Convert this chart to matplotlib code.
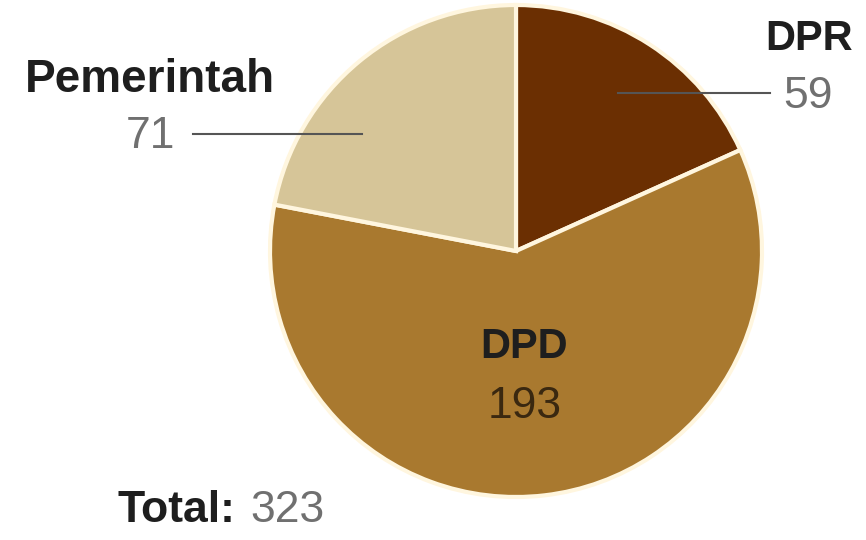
import matplotlib
matplotlib.use("Agg")
import matplotlib.pyplot as plt

# data
labels = ["DPR", "DPD", "Pemerintah"]
values = [59, 193, 71]
colors = ["#6b2f02", "#a9792f", "#d6c598"]
total = sum(values)

fig = plt.figure(figsize=(8.66, 5.40), dpi=100)
ax = fig.add_axes([0, 0, 1, 1])

ax.pie(values, colors=colors, startangle=90, counterclock=False,
       center=(516, 289), radius=246, frame=True,
       wedgeprops=dict(edgecolor="#fff6df", linewidth=3))
ax.set_xlim(0, 866)
ax.set_ylim(0, 540)
ax.set_aspect("equal")
ax.axis("off")

bold = dict(family=["Liberation Sans", "DejaVu Sans"], fontweight="bold",
            fontsize=30, color="#1e1e1e")
num = dict(family=["Liberation Sans", "DejaVu Sans"], fontsize=32,
           color="#707070")

# leader lines
ax.plot([193, 362], [406, 406], color="#555555", lw=1.5)
ax.plot([618, 770], [447, 447], color="#555555", lw=1.5)

ax.text(150, 460, labels[2], ha="center", va="center", **{**bold, "fontsize": 33})
ax.text(150, 403, str(values[2]), ha="center", va="center", **num)

ax.text(809, 501, labels[0], ha="center", va="center", **bold)
ax.text(808, 444, str(values[0]), ha="center", va="center", **num)

ax.text(524, 193, labels[1], ha="center", va="center", **bold)
ax.text(525, 133, str(values[1]), ha="center", va="center",
        **{**num, "color": "#3a2810"})

ax.text(117, 30, "Total:", ha="left", va="center", **{**bold, "fontsize": 32})
ax.text(250, 30, str(total), ha="left", va="center", **num)

fig.savefig("out.png", dpi=100)
